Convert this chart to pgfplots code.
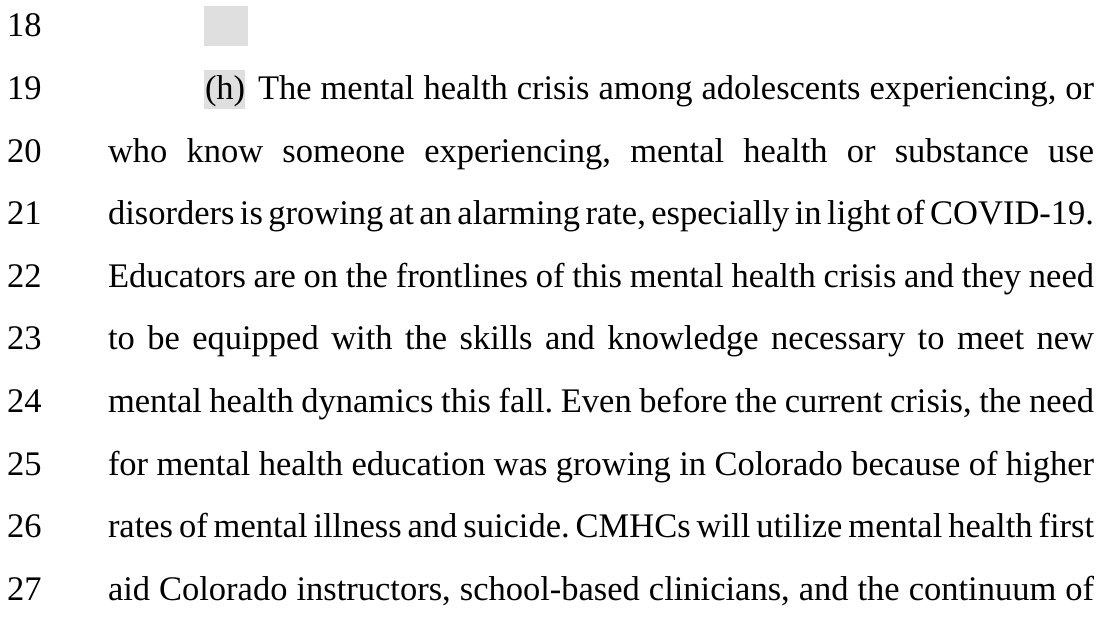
\documentclass[border=0pt]{standalone}
\usepackage{pgfplots}
\pgfplotsset{compat=1.18}
\usepackage{fontspec}
\setmainfont{Liberation Serif}
\definecolor{hl}{HTML}{DFDFDF}
\newcommand{\jl}[2]{{\frenchspacing\spaceskip=0.25em plus 3em minus 0.14em\relax\makebox[#1pt][s]{#2}}}
\tikzset{t/.style={inner sep=0pt, outer sep=0pt, anchor=base west, font=\fontsize{34.5}{40}\selectfont}}
\begin{document}
\begin{tikzpicture}
\begin{axis}[
  scale only axis, width=1104pt, height=617pt,
  xmin=0, xmax=1104, ymin=0, ymax=617, y dir=reverse,
  axis lines=none, ticks=none, clip=false
]
\addplot[draw=none, mark=none] coordinates {(0,0) (1104,617)};
\addplot[draw=none, fill=hl] coordinates {(204,6) (248,6) (248,46) (204,46)} -- cycle;
\addplot[draw=none, fill=hl] coordinates {(204,70) (245,70) (245,109) (204,109)} -- cycle;
% line numbers
\node[t] at (axis cs:7,37.0) {18};
\node[t] at (axis cs:7,99.6) {19};
\node[t] at (axis cs:7,162.2) {20};
\node[t] at (axis cs:7,224.8) {21};
\node[t] at (axis cs:7,287.4) {22};
\node[t] at (axis cs:7,350.0) {23};
\node[t] at (axis cs:7,412.6) {24};
\node[t] at (axis cs:7,475.2) {25};
\node[t] at (axis cs:7,537.8) {26};
\node[t] at (axis cs:7,600.4) {27};
% text
\node[t] at (axis cs:205,99.6) {(h)};
\node[t] at (axis cs:258,99.6) {\jl{836}{The mental health crisis among adolescents experiencing, or}};
\node[t] at (axis cs:108,162.2) {\jl{986}{who know someone experiencing, mental health or substance use}};
\node[t] at (axis cs:108,224.8) {\jl{986}{disorders is growing at an alarming rate, especially in light of COVID-19.}};
\node[t] at (axis cs:108,287.4) {\jl{986}{Educators are on the frontlines of this mental health crisis and they need}};
\node[t] at (axis cs:108,350.0) {\jl{986}{to be equipped with the skills and knowledge necessary to meet new}};
\node[t] at (axis cs:108,412.6) {\jl{986}{mental health dynamics this fall. Even before the current crisis, the need}};
\node[t] at (axis cs:108,475.2) {\jl{986}{for mental health education was growing in Colorado because of higher}};
\node[t] at (axis cs:108,537.8) {\jl{986}{rates of mental illness and suicide. CMHCs will utilize mental health first}};
\node[t] at (axis cs:108,600.4) {\jl{986}{aid Colorado instructors, school-based clinicians, and the continuum of}};
\end{axis}
\end{tikzpicture}
\end{document}
